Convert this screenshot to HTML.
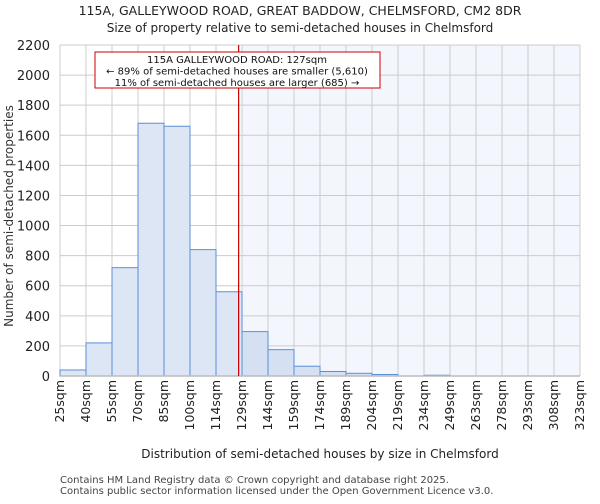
<!DOCTYPE html>
<html><head><meta charset="utf-8"><style>
body{margin:0;background:#fff;font-family:"DejaVu Sans","Liberation Sans",sans-serif;}
svg text{font-family:"DejaVu Sans","Liberation Sans",sans-serif;}
</style></head><body>
<svg id="chart" width="600" height="500" viewBox="0 0 600 500" xmlns="http://www.w3.org/2000/svg">
<text x="300" y="15" text-anchor="middle" font-size="12.5" fill="#222">115A, GALLEYWOOD ROAD, GREAT BADDOW, CHELMSFORD, CM2 8DR</text>
<text x="300" y="32" text-anchor="middle" font-size="12" fill="#222">Size of property relative to semi-detached houses in Chelmsford</text>
<g id="plot"></g>
<text x="320" y="458" text-anchor="middle" font-size="12" fill="#222">Distribution of semi-detached houses by size in Chelmsford</text>
<text transform="translate(13,216) rotate(-90)" text-anchor="middle" font-size="12" fill="#333">Number of semi-detached properties</text>
<text x="60" y="483" font-size="10" fill="#444">Contains HM Land Registry data © Crown copyright and database right 2025.</text>
<text x="60" y="494" font-size="10" fill="#444">Contains public sector information licensed under the Open Government Licence v3.0.</text>
</svg>
<script>
const binLabels=["25sqm","40sqm","55sqm","70sqm","85sqm","100sqm","114sqm","129sqm","144sqm","159sqm","174sqm","189sqm","204sqm","219sqm","234sqm","249sqm","263sqm","278sqm","293sqm","308sqm","323sqm"];
const counts=[40,220,720,1680,1660,840,560,295,175,65,30,18,10,0,5,0,0,0,0,0];
const yTicks=[0,200,400,600,800,1000,1200,1400,1600,1800,2000,2200];
const propertyBin=6.87;
const highlightStart=7;
const L=60,R=580,T=45,B=376,yMax=2200;
const n=counts.length;
const xs=i=>L+(R-L)*i/n;
const ys=v=>B-(B-T)*v/yMax;
const NS="http://www.w3.org/2000/svg";
const g=document.getElementById('plot');
function mk(t,a){const e=document.createElementNS(NS,t);for(const k in a)e.setAttribute(k,a[k]);g.appendChild(e);return e;}
let e=mk('rect',{x:xs(highlightStart),y:T,width:R-xs(highlightStart),height:B-T,fill:'#f3f6fd'});


yTicks.forEach(v=>{
 let l=mk('line',{x1:L,x2:R,y1:ys(v),y2:ys(v),stroke:'#ccc','stroke-width':1});
 
 
 let t=mk('text',{x:L-10,y:ys(v)+5,'text-anchor':'end','font-size':13,fill:'#222'});
 t.textContent=v;
 
 
});
binLabels.forEach((s,i)=>{
 let l=mk('line',{x1:xs(i),x2:xs(i),y1:T,y2:B,stroke:'#ccc','stroke-width':1});
 
 
 let t=mk('text',{transform:`translate(${xs(i)+4},380) rotate(-90)`,'text-anchor':'end','font-size':12.5,fill:'#222'});
 t.textContent=s;
 
 
});
counts.forEach((v,i)=>{
 if(v<=0)return;
 let r=mk('rect',{x:xs(i),y:ys(v),width:xs(1)-xs(0),height:B-ys(v),fill:i>=highlightStart?'#d5e1f3':'#dce6f4',stroke:'#5b8fd6','stroke-width':1});
 
 
});
let ax=mk('line',{x1:L,x2:R,y1:B,y2:B,stroke:'#bbb','stroke-width':1.5});


const px=xs(propertyBin);
let ml=mk('line',{x1:px,x2:px,y1:T,y2:B,stroke:'#cc0000','stroke-width':1.2});


let box=mk('rect',{x:95,y:52,width:285,height:36,fill:'#fff',stroke:'#cc0000','stroke-width':1});


["115A GALLEYWOOD ROAD: 127sqm","← 89% of semi-detached houses are smaller (5,610)","11% of semi-detached houses are larger (685) →"].forEach((s,i)=>{
 let t=mk('text',{x:237,y:63+i*11.5,'text-anchor':'middle','font-size':10,fill:'#111'});
 t.textContent=s;
 
 
});
</script>
</body></html>
